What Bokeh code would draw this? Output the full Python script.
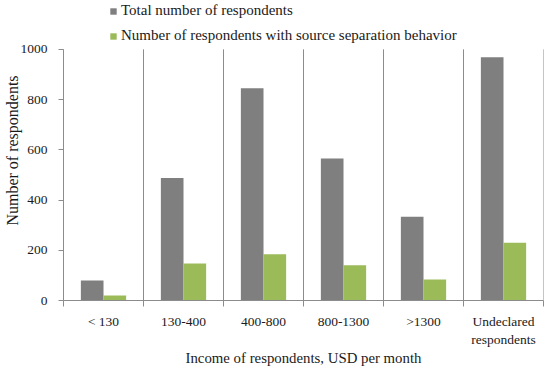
from bokeh.plotting import figure
from bokeh.models import ColumnDataSource, FixedTicker, Range1d, Legend, LegendItem
from bokeh.transform import dodge
from bokeh.embed import file_html
from bokeh.resources import INLINE

categories = ["< 130", "130-400", "400-800", "800-1300", ">1300", "Undeclared\nrespondents"]
total = [80, 488, 845, 565, 333, 968]
separation = [20, 147, 184, 140, 84, 230]
y_ticks = [0, 200, 400, 600, 800, 1000]

FONT = "Liberation Serif"
GREY = "#7f7f7f"
GREEN = "#9bbb59"
AXIS = "#8c8c8c"
TXT = "#1a1a1a"

idx = list(range(len(categories)))
centers = [i + 0.5 for i in idx]
bounds = list(range(len(categories) + 1))
y_max = y_ticks[-1]
# headroom above the value axis holds the legend (frame top = figure top)
y_top = y_max * 301 / 252

src = ColumnDataSource(dict(x=centers, total=total, sep=separation))
sep_src = ColumnDataSource(dict(x=bounds, y0=[0] * len(bounds), y1=[y_max] * len(bounds)))

p = figure(width=550, height=369, output_backend="svg", toolbar_location=None,
           x_range=Range1d(0, len(categories)), y_range=Range1d(0, y_top),
           min_border_left=63, min_border_right=7, min_border_top=0, min_border_bottom=68)
p.outline_line_color = None

# category separators
p.segment(x0="x", x1="x", y0="y0", y1="y1", source=sep_src, line_color=AXIS, line_width=1)

bw = 0.283
r1 = p.vbar(x=dodge("x", -bw / 2, range=p.x_range), top="total", width=bw, source=src,
            fill_color=GREY, line_color=None)
r2 = p.vbar(x=dodge("x", bw / 2, range=p.x_range), top="sep", width=bw, source=src,
            fill_color=GREEN, line_color=None)

# x axis
p.xaxis.ticker = FixedTicker(ticks=centers, minor_ticks=bounds)
p.xaxis.major_label_overrides = {c: lab for c, lab in zip(centers, categories)}
p.xaxis.major_tick_line_color = None
p.xaxis.major_tick_out = 0
p.xaxis.major_tick_in = 0
p.xaxis.minor_tick_line_color = AXIS
p.xaxis.minor_tick_out = 6
p.xaxis.minor_tick_in = 0
p.xaxis.axis_line_color = AXIS
p.xaxis.major_label_text_font = FONT
p.xaxis.major_label_text_font_size = "13.5px"
p.xaxis.major_label_text_color = TXT
p.xaxis.major_label_text_line_height = 1.25
p.xaxis.major_label_standoff = 7
p.xaxis.axis_label = "Income of respondents, USD per month"
p.xaxis.axis_label_text_font = FONT
p.xaxis.axis_label_text_font_size = "14.8px"
p.xaxis.axis_label_text_font_style = "normal"
p.xaxis.axis_label_text_color = TXT
p.xaxis.axis_label_standoff = 0

# y axis
p.yaxis.ticker = FixedTicker(ticks=y_ticks)
p.yaxis.bounds = (0, y_max)
p.yaxis.major_tick_out = 5
p.yaxis.major_tick_in = 0
p.yaxis.minor_tick_line_color = None
p.yaxis.major_tick_line_color = AXIS
p.yaxis.axis_line_color = AXIS
p.yaxis.major_label_text_font = FONT
p.yaxis.major_label_text_font_size = "13.5px"
p.yaxis.major_label_text_color = TXT
p.yaxis.major_label_standoff = 11
p.yaxis.axis_label = "Number of respondents"
p.yaxis.axis_label_text_font = FONT
p.yaxis.axis_label_text_font_size = "16px"
p.yaxis.axis_label_text_font_style = "normal"
p.yaxis.axis_label_text_color = TXT
p.yaxis.axis_label_standoff = -3

# grids
p.ygrid.grid_line_color = None
p.xgrid.grid_line_color = None

legend = Legend(items=[LegendItem(label="Total number of respondents", renderers=[r1]),
                       LegendItem(label="Number of respondents with source separation behavior", renderers=[r2])],
                location=(46, 256), orientation="vertical",
                glyph_width=8, glyph_height=8, label_height=10, spacing=8,
                label_standoff=4, padding=0, margin=0,
                border_line_color=None, background_fill_alpha=0,
                label_text_font=FONT, label_text_font_size="15px", label_text_color=TXT)
p.add_layout(legend, "center")

open("out.html", "w").write(file_html(p, INLINE))
